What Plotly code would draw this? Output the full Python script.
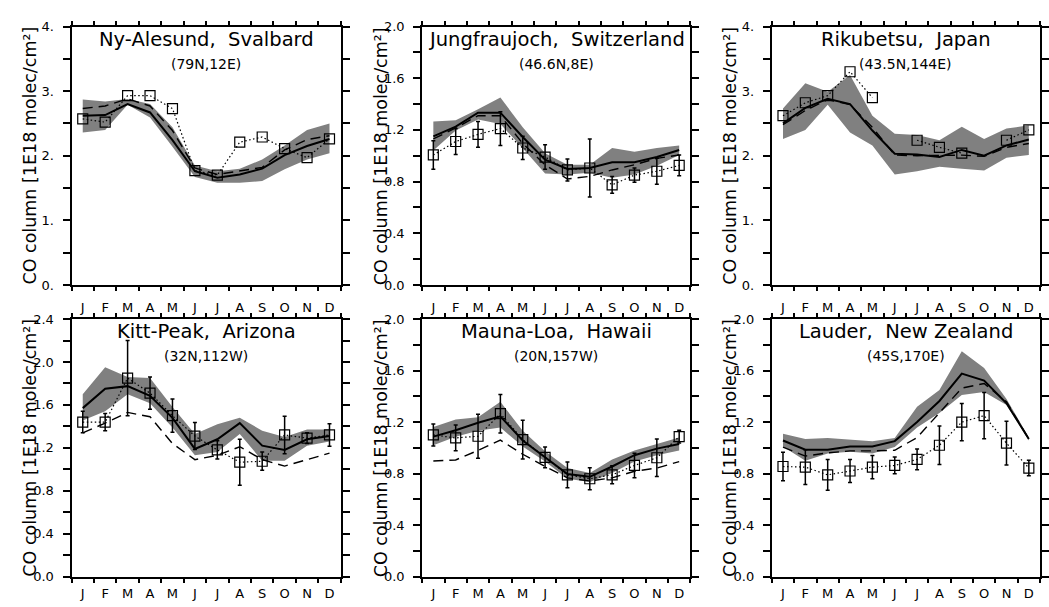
import numpy as np
import plotly.graph_objects as go
from plotly.subplots import make_subplots

# ---------------- data ----------------
months = ['J', 'F', 'M', 'A', 'M', 'J', 'J', 'A', 'S', 'O', 'N', 'D']
month_idx = list(range(1, 13))
month_bounds = [m + 0.5 for m in range(0, 13)]

# Ny-Alesund, Svalbard
ny_obs = [2.57, 2.52, 2.93, 2.93, 2.73, 1.77, 1.70, 2.21, 2.29, 2.11, 1.97, 2.26]
ny_model = [2.62, 2.63, 2.80, 2.67, 2.24, 1.76, 1.66, 1.71, 1.80, 2.01, 2.15, 2.26]
ny_dash = [2.73, 2.77, 2.88, 2.77, 2.39, 1.81, 1.71, 1.76, 1.82, 2.09, 2.25, 2.31]
ny_hi = [2.87, 2.84, 2.88, 2.80, 2.44, 1.85, 1.76, 1.80, 1.94, 2.16, 2.40, 2.50]
ny_lo = [2.36, 2.40, 2.79, 2.59, 2.14, 1.67, 1.58, 1.58, 1.61, 1.79, 1.94, 2.04]

# Jungfraujoch, Switzerland
jf_obs = [1.006, 1.11, 1.165, 1.21, 1.06, 0.99, 0.89, 0.905, 0.775, 0.85, 0.88, 0.925]
jf_err = [0.11, 0.10, 0.10, 0.13, 0.09, 0.095, 0.085, 0.225, 0.065, 0.055, 0.10, 0.08]
jf_model = [1.15, 1.225, 1.333, 1.333, 1.145, 0.97, 0.898, 0.905, 0.95, 0.95, 0.99, 1.044]
jf_dash = [1.13, 1.215, 1.31, 1.31, 1.095, 0.93, 0.82, 0.84, 0.89, 0.93, 0.98, 1.006]
jf_hi = [1.265, 1.275, 1.36, 1.45, 1.22, 1.02, 0.93, 0.93, 1.06, 1.03, 1.06, 1.08]
jf_lo = [1.04, 1.195, 1.28, 1.245, 1.057, 0.863, 0.855, 0.868, 0.83, 0.855, 0.923, 1.006]

# Rikubetsu, Japan
rk_obs = [2.62, 2.82, 2.93, 3.30, 2.90, None, 2.24, 2.13, 2.04, None, 2.24, 2.40]
rk_model = [2.50, 2.74, 2.88, 2.80, 2.39, 2.03, 2.02, 1.98, 2.09, 2.00, 2.16, 2.25]
rk_dash = [2.48, 2.70, 2.87, 2.79, 2.44, 2.01, 2.00, 2.01, 2.01, 1.99, 2.13, 2.19]
rk_hi = [2.73, 3.12, 2.99, 3.25, 2.62, 2.34, 2.32, 2.24, 2.45, 2.26, 2.42, 2.47]
rk_lo = [2.26, 2.40, 2.79, 2.36, 2.16, 1.71, 1.76, 1.83, 1.80, 1.77, 1.97, 2.01]

# Kitt-Peak, Arizona
kp_obs = [1.44, 1.44, 1.85, 1.71, 1.50, 1.31, 1.18, 1.066, 1.075, 1.32, 1.29, 1.32]
kp_err = [0.10, 0.08, 0.35, 0.15, 0.155, 0.125, 0.085, 0.215, 0.085, 0.175, 0.05, 0.105]
kp_model = [1.57, 1.75, 1.775, 1.685, 1.48, 1.19, 1.28, 1.43, 1.22, 1.18, 1.28, 1.31]
kp_dash = [1.34, 1.43, 1.53, 1.49, 1.24, 1.09, 1.13, 1.21, 1.09, 1.03, 1.09, 1.15]
kp_hi = [1.70, 1.95, 1.86, 1.85, 1.58, 1.33, 1.42, 1.48, 1.36, 1.30, 1.37, 1.37]
kp_lo = [1.455, 1.54, 1.70, 1.615, 1.39, 1.13, 1.16, 1.33, 1.08, 1.08, 1.22, 1.26]

# Mauna-Loa, Hawaii
ml_obs = [1.10, 1.077, 1.09, 1.265, 1.064, 0.926, 0.79, 0.76, 0.79, 0.863, 0.923, 1.087]
ml_err = [0.085, 0.10, 0.17, 0.15, 0.15, 0.08, 0.10, 0.085, 0.07, 0.095, 0.145, 0.05]
ml_model = [1.087, 1.137, 1.195, 1.245, 1.057, 0.93, 0.797, 0.775, 0.855, 0.943, 0.994, 1.03]
ml_dash = [0.898, 0.906, 0.98, 1.06, 0.95, 0.855, 0.767, 0.742, 0.767, 0.818, 0.843, 0.893]
ml_hi = [1.162, 1.22, 1.238, 1.358, 1.132, 0.974, 0.843, 0.805, 0.91, 0.98, 1.03, 1.08]
ml_lo = [1.02, 1.087, 1.132, 1.157, 1.011, 0.893, 0.76, 0.735, 0.805, 0.893, 0.943, 0.98]

# Lauder, New Zealand
ld_obs = [0.855, 0.85, 0.79, 0.82, 0.85, 0.863, 0.91, 1.02, 1.20, 1.25, 1.036, 0.843]
ld_err = [0.11, 0.135, 0.12, 0.09, 0.09, 0.065, 0.08, 0.15, 0.145, 0.18, 0.17, 0.06]
ld_model = [1.057, 0.986, 0.986, 1.011, 1.011, 1.052, 1.20, 1.364, 1.577, 1.522, 1.346, 1.069]
ld_dash = [1.006, 0.936, 0.961, 0.976, 0.976, 0.981, 1.08, 1.27, 1.464, 1.50, 1.358, 1.069]
ld_hi = [1.11, 1.069, 1.077, 1.062, 1.052, 1.077, 1.32, 1.45, 1.75, 1.62, 1.38, 1.08]
ld_lo = [1.011, 0.90, 0.956, 0.969, 0.956, 1.006, 1.157, 1.27, 1.41, 1.434, 1.333, 1.057]

# y tick labels (major) and minor tick spacing
yt_4 = [0, 1, 2, 3, 4]
yl_4 = ['0.', '1.', '2.', '3.', '4.']
yt_20 = [0, 0.4, 0.8, 1.2, 1.6, 2.0]
yl_20 = ['0.0', '0.4', '0.8', '1.2', '1.6', '2.0']
yt_24 = [0, 0.4, 0.8, 1.2, 1.6, 2.0, 2.4]
yl_24 = ['0.0', '0.4', '0.8', '1.2', '1.6', '2.0', '2.4']

titles = ['Ny-Alesund,  Svalbard', 'Jungfraujoch,  Switzerland', 'Rikubetsu,  Japan',
          'Kitt-Peak,  Arizona', 'Mauna-Loa,  Hawaii', 'Lauder,  New Zealand']
subtitles = ['(79N,12E)', '(46.6N,8E)', '(43.5N,144E)',
             '(32N,112W)', '(20N,157W)', '(45S,170E)']
ytitle = 'CO column [1E18 molec/cm²]'

stations = [
    (ny_obs, None, ny_model, ny_dash, ny_hi, ny_lo, 4.0, yt_4, yl_4, 0.5),
    (jf_obs, jf_err, jf_model, jf_dash, jf_hi, jf_lo, 2.0, yt_20, yl_20, 0.2),
    (rk_obs, None, rk_model, rk_dash, rk_hi, rk_lo, 4.0, yt_4, yl_4, 0.5),
    (kp_obs, kp_err, kp_model, kp_dash, kp_hi, kp_lo, 2.4, yt_24, yl_24, 0.2),
    (ml_obs, ml_err, ml_model, ml_dash, ml_hi, ml_lo, 2.0, yt_20, yl_20, 0.2),
    (ld_obs, ld_err, ld_model, ld_dash, ld_hi, ld_lo, 2.0, yt_20, yl_20, 0.2),
]

# ---------------- layout geometry (pixels) ----------------
W, H = 1049, 607
col_px = [(72, 343), (425, 695), (777, 1047)]
row_px = [(20, 285), (320, 584)]
FONT = 'DejaVu Sans'

fig = make_subplots(rows=2, cols=3)

for i, (obs, err, model, dash, hi, lo, ytop, yt, yl, ydt) in enumerate(stations):
    r, c = i // 3 + 1, i % 3 + 1
    fig.add_trace(go.Scatter(x=month_idx, y=hi, mode='lines', line=dict(width=0, color='#808080'),
                             showlegend=False, hoverinfo='skip'), row=r, col=c)
    fig.add_trace(go.Scatter(x=month_idx, y=lo, mode='lines', line=dict(width=0, color='#808080'),
                             fill='tonexty', fillcolor='#808080', showlegend=False, hoverinfo='skip'),
                  row=r, col=c)
    fig.add_trace(go.Scatter(x=month_idx, y=dash, mode='lines',
                             line=dict(color='black', width=1.4, dash='10px,6px'),
                             showlegend=False), row=r, col=c)
    fig.add_trace(go.Scatter(x=month_idx, y=model, mode='lines',
                             line=dict(color='black', width=2),
                             showlegend=False), row=r, col=c)
    ob = dict(x=month_idx, y=obs, mode='lines+markers',
              line=dict(color='black', width=1.2, dash='1.5px,2.5px'),
              marker=dict(symbol='square-open', size=10, color='black', line=dict(width=1.2, color='black')),
              connectgaps=False, showlegend=False)
    if err is not None:
        ob['error_y'] = dict(type='data', array=err, visible=True, color='black', thickness=1.5, width=2)
    fig.add_trace(go.Scatter(**ob), row=r, col=c)

    x0, x1 = col_px[c - 1]
    y0, y1 = row_px[r - 1]
    xa = 'xaxis' if i == 0 else f'xaxis{i + 1}'
    ya = 'yaxis' if i == 0 else f'yaxis{i + 1}'
    fig.layout[xa].update(
        domain=[x0 / W, x1 / W], range=[0.5, 12.5],
        tickmode='array', tickvals=month_idx, ticktext=months, ticks='',
        showline=True, linecolor='black', linewidth=2, mirror='allticks',
        showgrid=False, zeroline=False,
        tickfont=dict(family=FONT, size=13, color='black'),
        ticklabelstandoff=(9 if r == 1 else 4),
        minor=dict(tickmode='array', tickvals=month_bounds, ticks='outside', ticklen=4,
                   tickwidth=1.5, tickcolor='black', showgrid=False),
    )
    fig.layout[ya].update(
        domain=[1 - y1 / H, 1 - y0 / H], range=[0, ytop],
        tickmode='array', tickvals=yt, ticktext=yl, ticks='outside', ticklen=7,
        tickwidth=1.5, tickcolor='black',
        showline=True, linecolor='black', linewidth=2, mirror='allticks',
        showgrid=False, zeroline=False,
        tickfont=dict(family=FONT, size=13, color='black'),
        ticklabelstandoff=6,
        minor=dict(dtick=ydt, tick0=0, ticks='outside', ticklen=7, tickwidth=1.5,
                   tickcolor='black', showgrid=False),
    )
    cx = (x0 + x1) / 2 / W
    fig.add_annotation(x=cx, y=1 - (y0 + 13) / H, xref='paper', yref='paper',
                       text=titles[i], showarrow=False, xanchor='center', yanchor='middle',
                       font=dict(family=FONT, size=19.5, color='black'))
    fig.add_annotation(x=cx, y=1 - (y0 + 38) / H, xref='paper', yref='paper',
                       text=subtitles[i], showarrow=False, xanchor='center', yanchor='middle',
                       font=dict(family=FONT, size=14, color='black'))
    fig.add_annotation(x=(x0 - 42) / W, y=1 - (y0 + y1) / 2 / H, xref='paper', yref='paper',
                       text=ytitle, textangle=-90,
                       showarrow=False, xanchor='center', yanchor='middle',
                       font=dict(family=FONT, size=17.5, color='black'))

fig.update_layout(width=W, height=H, autosize=False,
                  margin=dict(l=0, r=0, t=0, b=0),
                  paper_bgcolor='white', plot_bgcolor='white',
                  font=dict(family=FONT, color='black'))

fig.write_html('out.html')
